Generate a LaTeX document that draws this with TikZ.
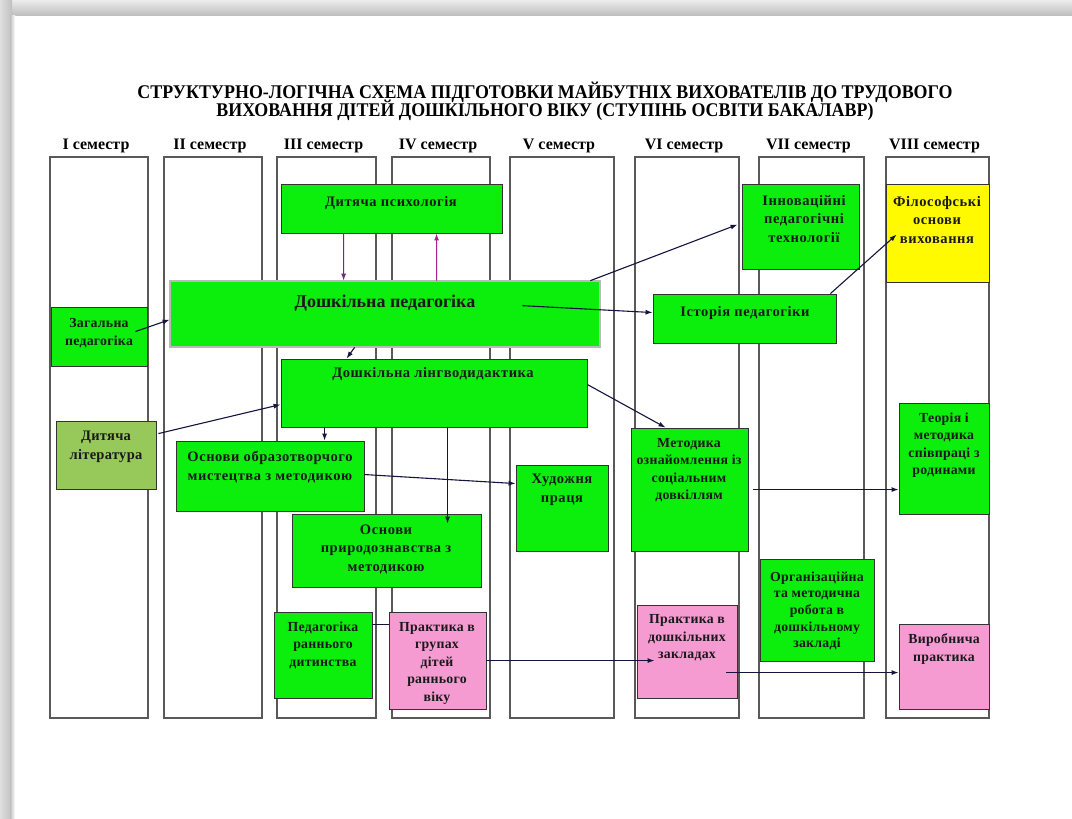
\documentclass[tikz,border=0pt]{standalone}
\usepackage{fontspec}
\setmainfont{Liberation Serif}
\newfontfamily\bxfont[LetterSpace=4]{Liberation Serif}
\newfontfamily\bxfontn[LetterSpace=2]{Liberation Serif}
\usetikzlibrary{calc,arrows.meta}
\definecolor{bgreen}{RGB}{12,238,12}
\definecolor{bpink}{RGB}{245,155,210}
\definecolor{byellow}{RGB}{255,250,0}
\definecolor{olivegr}{RGB}{150,200,90}
\definecolor{arrcol}{RGB}{20,20,60}
\definecolor{purp}{RGB}{120,40,120}
\definecolor{magen}{RGB}{170,30,150}
\newcommand\mybox[6]{\node[bx,fill=#6,minimum width={#4-#2},minimum height={#5-#3}] (#1) at ({(#2+#4)/2},{(#3+#5)/2}) {};}
\tikzset{
  col/.style={draw=black!65, line width=1.2pt, fill=white},
  bx/.style={draw=black!80, line width=0.9pt, inner sep=0pt},
  txt/.style={font=\bxfontn\fontsize{13.8}{17.5}\selectfont\bfseries, align=center, inner sep=0pt, text=black!90},
  txtw/.style={font=\bxfont\fontsize{14.5}{18.5}\selectfont\bfseries, align=center, inner sep=0pt, text=black!90},
  hdr/.style={font=\fontsize{16}{18}\selectfont\bfseries, inner sep=0pt, anchor=base},
  ttl/.style={font=\bfseries, inner sep=0pt, anchor=base},
  arr/.style={draw=arrcol, line width=1.1pt, -{Latex[length=7pt,width=5pt]}},
  ln/.style={draw=arrcol, line width=1.1pt}
}
\begin{document}
\begin{tikzpicture}[x=1pt,y=-1pt]
\useasboundingbox (0,0) rectangle (1072,819);
\fill[white] (0,0) rectangle (1072,819);
% page shadow
\shade[top color=gray!15, bottom color=gray!50] (0,0) rectangle (1072,15);
\shade[left color=gray!25, right color=gray!50] (0,0) rectangle (12,819);
\shade[left color=gray!50, right color=white] (10,15) rectangle (15,819);
% title
\node[ttl] (title1) at (545,98) {\resizebox{815pt}{16.5pt}{\bfseries СТРУКТУРНО-ЛОГІЧНА СХЕМА ПІДГОТОВКИ МАЙБУТНІХ ВИХОВАТЕЛІВ ДО ТРУДОВОГО}};
\node[ttl] (title2) at (545,116) {\resizebox{657pt}{16.5pt}{\bfseries ВИХОВАННЯ ДІТЕЙ ДОШКІЛЬНОГО ВІКУ (СТУПІНЬ ОСВІТИ БАКАЛАВР)}};
% columns
\foreach \n/\a/\b/\lab in {c1/50/148/I, c2/164/262/II, c3/277/376/III, c4/392/490/IV, c5/510/614/V, c6/635/739/VI, c7/759/864/VII, c8/886/989/VIII}{
  \node[col, inner sep=0pt, minimum width={\b-\a}, minimum height=561] (\n) at ({(\a+\b)/2},437.5) {};
  \node[hdr] (\n-h) at ({(\a+\b)/2-3},149) {\lab\ семестр};
}
% boxes
\mybox{dpsy}{281}{184}{502}{233}{bgreen}
\node[bx, fill=bgreen, draw=black!85, line width=0.7pt, double=gray!55, double distance=1.4pt, minimum width=430, minimum height=66] (dp) at (385,314) {};
\mybox{zp}{51}{307}{147}{366}{bgreen}
\mybox{inn}{742}{184}{859}{269}{bgreen}
\mybox{fil}{886}{184}{989}{282}{byellow}
\mybox{ist}{653}{294}{836}{343}{bgreen}
\mybox{ling}{281}{359}{587}{427}{bgreen}
\mybox{lit}{56}{421}{156}{489}{olivegr}
\mybox{obr}{176}{441}{364}{511}{bgreen}
\mybox{pryr}{292}{514}{481}{587}{bgreen}
\mybox{hud}{516}{465}{608}{551}{bgreen}
\mybox{met}{631}{428}{748}{551}{bgreen}
\mybox{teor}{899}{403}{989}{514}{bgreen}
\mybox{ped}{274}{612}{372}{698}{bgreen}
\mybox{pr1}{389}{612}{486}{709}{bpink}
\mybox{pr2}{637}{605}{737}{698}{bpink}
\mybox{org}{760}{559}{874}{661}{bgreen}
\mybox{vyr}{899}{624}{989}{709}{bpink}
% texts
\node[txtw] (dpsy-t) at (391,203) {Дитяча психологія};
\node[txt, font=\fontsize{18}{20}\selectfont\bfseries] (dp-t) at (385,303) {Дошкільна педагогіка};
\node[txt] (zp-t) at (99,333) {Загальна\\педагогіка};
\node[txtw] (inn-t) at (804,219) {Інноваційні\\педагогічні\\технології};
\node[txtw] (fil-t) at (937,220) {Філософські\\основи\\виховання};
\node[txtw] (ist-t) at (745,313) {Історія педагогіки};
\node[txtw] (ling-t) at (433,374) {Дошкільна лінгводидактика};
\node[txt, font=\bxfontn\fontsize{14.5}{18.5}\selectfont\bfseries] (lit-t) at (106,447) {Дитяча\\література};
\node[txtw] (obr-t) at (270,467) {Основи образотворчого\\мистецтва з методикою};
\node[txtw] (pryr-t) at (386,549) {Основи\\природознавства з\\методикою};
\node[txtw] (hud-t) at (562,490) {Художня\\праця};
\node[txt] (met-t) at (689,470) {Методика\\ознайомлення із\\соціальним\\довкіллям};
\node[txt] (teor-t) at (944,445) {Теорія і\\методика\\співпраці з\\родинами};
\node[txt] (ped-t) at (323,645) {Педагогіка\\раннього\\дитинства};
\node[txt] (pr1-t) at (437,663) {Практика в\\групах\\дітей\\раннього\\віку};
\node[txt] (pr2-t) at (687,638) {Практика в\\дошкільних\\закладах};
\node[txt, font=\bxfontn\fontsize{13.8}{16.7}\selectfont\bfseries] (org-t) at (817,611) {Організаційна\\та методична\\робота в\\дошкільному\\закладі};
\node[txt] (vyr-t) at (944,649) {Виробнича\\практика};
% connectors
\draw[arr] ($(zp.north east)+(-12,25)$) -- ($(dp.north west)+(0,39)$);
\draw[arr, draw=purp] ($(dpsy.south west)+(63,0)$) -- ($(dp.north west)+(174,0)$);
\draw[arr, draw=magen] ($(dp.north west)+(267,0)$) -- ($(dpsy.south west)+(156,0)$);
\draw[arr] ($(dp.south west)+(185,0)$) -- ($(ling.north west)+(66,0)$);
\draw[arr] ($(dp.north east)+(-10,0)$) -- ($(inn.north west)+(-4,41)$);
\draw[arr] ($(dp.north east)+(-78,25)$) -- ($(ist.north west)+(0,19)$);
\draw[arr] ($(ist.north east)+(-6,0)$) -- ($(fil.north west)+(11,51)$);
\draw[arr] ($(lit.north east)+(2,13)$) -- ($(ling.north west)+(0,46)$);
\draw[arr] ($(ling.south west)+(44,0)$) -- ($(obr.north west)+(149,0)$);
\draw[arr] ($(ling.south west)+(167,0)$) -- ($(pryr.north west)+(156,10)$);
\draw[arr] ($(obr.north east)+(0,34)$) -- ($(hud.north west)+(0,19)$);
\draw[arr] ($(ling.north east)+(0,26)$) -- ($(met.north west)+(35,0)$);
\draw[arr] ($(met.north east)+(5,62)$) -- ($(teor.north west)+(0,87)$);
\draw[ln] ($(ped.north east)+(0,13)$) -- ($(pr1.north west)+(0,13)$);
\draw[arr] ($(pr1.north east)+(0,49)$) -- ($(pr2.north west)+(18,56)$);
\draw[arr] ($(pr2.north east)+(-11,68)$) -- ($(vyr.north west)+(0,49)$);
\end{tikzpicture}
\end{document}
